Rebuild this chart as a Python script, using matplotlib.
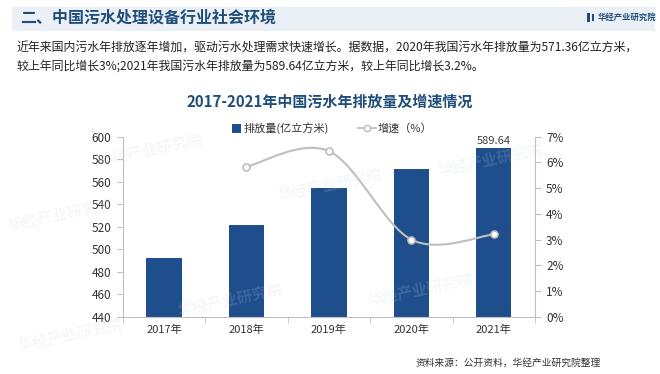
import numpy as np
import matplotlib
matplotlib.use("Agg")
import matplotlib.pyplot as plt
from matplotlib.path import Path
from matplotlib.patches import PathPatch, Rectangle

plt.rcParams['font.family'] = ['Noto Sans CJK SC', 'DejaVu Sans']

years = ['2017年', '2018年', '2019年', '2020年', '2021年']
volume = [492.4, 521.1, 554.65, 571.36, 589.64]
growth_years = [1, 2, 3, 4]
growth = [5.83, 6.44, 3.0, 3.2]

W, H = 660, 374
fig = plt.figure(figsize=(W / 100, H / 100), dpi=100)
fig.patch.set_facecolor('white')


def fx(x):
    return x / W


def fy(y):
    return 1 - y / H


navy = '#1F4E8C'
title_blue = '#1F4E79'

# header band
fig.patches.append(Rectangle((fx(12), fy(31)), fx(643), 24 / H, transform=fig.transFigure,
                             facecolor='#EBF0F7', edgecolor='none', zorder=0))
fig.text(fx(20), fy(18), '二、中国污水处理设备行业社会环境', fontsize=11.5, fontweight='bold',
         color=title_blue, va='center', ha='left')
fig.patches.append(Rectangle((fx(587), fy(22)), 3 / W, 9 / H, transform=fig.transFigure,
                             facecolor=title_blue, edgecolor='none'))
fig.patches.append(Rectangle((fx(591.5), fy(21)), 2 / W, 7 / H, transform=fig.transFigure,
                             facecolor=title_blue, edgecolor='none'))
fig.text(fx(598), fy(17.5), '华经产业研究院', fontsize=6, fontweight='bold',
         color=title_blue, va='center', ha='left')

fig.text(fx(17), fy(48), '近年来国内污水年排放逐年增加，驱动污水处理需求快速增长。据数据，2020年我国污水年排放量为571.36亿立方米，',
         fontsize=8.6, color='#222222', va='center', ha='left')
fig.text(fx(17), fy(66.5), '较上年同比增长3%;2021年我国污水年排放量为589.64亿立方米，较上年同比增长3.2%。',
         fontsize=8.6, color='#222222', va='center', ha='left')

fig.text(fx(330), fy(102), '2017-2021年中国污水年排放量及增速情况', fontsize=10.8, fontweight='bold',
         color=title_blue, va='center', ha='center')

# watermarks
for (wx, wy) in [(150, 150), (330, 185), (490, 160), (60, 215), (230, 300), (420, 290), (70, 335)]:
    fig.text(fx(wx), fy(wy), '华经产业研究院', fontsize=11, fontweight='bold', color='#C8D3E3',
             alpha=0.18, rotation=12, ha='center', va='center', zorder=0.5)

ax = fig.add_axes([fx(122.7), fy(316.7), (535 - 122.7) / W, (316.7 - 136.7) / H])
ax.patch.set_alpha(0)
x = np.arange(len(years))
bars = ax.bar(x, volume, width=0.43, color=navy, zorder=2, label='排放量(亿立方米)')
ax.set_ylim(440, 600)
ax.set_yticks(np.arange(440, 601, 20))
ax.set_xlim(-0.5, len(years) - 0.5)
ax.set_xticks(x)
ax.set_xticklabels(years)
ax.set_xticks(np.arange(-0.5, len(years), 1), minor=True)
ax.tick_params(axis='x', which='major', length=0, pad=6, labelsize=8, labelcolor='#333333')
ax.tick_params(axis='x', which='minor', length=4, color='#BFBFBF', direction='out')
ax.tick_params(axis='y', length=4, color='#BFBFBF', labelsize=8.5, labelcolor='#333333', pad=4)
for s in ['top', 'right']:
    ax.spines[s].set_visible(False)
for s in ['left', 'bottom']:
    ax.spines[s].set_color('#BFBFBF')
ax.text(x[-1], volume[-1] + 2, f'{volume[-1]:.2f}', ha='center', va='bottom', fontsize=8, color='#404040')

ax2 = ax.twinx()
ax2.set_ylim(0, 7)
ax2.set_yticks(range(0, 8))
ax2.set_yticklabels([f'{v}%' for v in range(0, 8)])
ax2.tick_params(axis='y', length=4, color='#BFBFBF', labelsize=8.5, labelcolor='#333333', pad=4)
for s in ['top', 'left', 'bottom']:
    ax2.spines[s].set_visible(False)
ax2.spines['right'].set_color('#BFBFBF')

# smoothed line (Catmull-Rom as cubic Bezier)
pts = np.column_stack([growth_years, growth]).astype(float)
n = len(pts)
verts = [pts[0]]
codes = [Path.MOVETO]
for i in range(n - 1):
    p0 = pts[i - 1] if i > 0 else pts[i]
    p1, p2 = pts[i], pts[i + 1]
    p3 = pts[i + 2] if i + 2 < n else pts[i + 1]
    c1 = p1 + (p2 - p0) / 6
    c2 = p2 - (p3 - p1) / 6
    verts += [c1, c2, p2]
    codes += [Path.CURVE4] * 3
ax2.add_patch(PathPatch(Path(verts, codes), facecolor='none', edgecolor='#BFBFBF', lw=1.5, zorder=3))
ax2.plot(growth_years, growth, linestyle='none', marker='o', ms=5, mfc='white', mec='#BFBFBF',
         mew=1.2, zorder=4)

# legend
fig.patches.append(Rectangle((fx(232), fy(133)), 9 / W, 9 / H, transform=fig.transFigure,
                             facecolor=navy, edgecolor='none'))
fig.text(fx(244), fy(128.5), '排放量(亿立方米)', fontsize=8, color='#333333', va='center', ha='left')
fig.lines.append(plt.Line2D([fx(358), fx(376)], [fy(128.5), fy(128.5)], transform=fig.transFigure,
                            color='#BFBFBF', lw=1.3))
fig.lines.append(plt.Line2D([fx(367)], [fy(128.5)], transform=fig.transFigure, marker='o', ms=4.5,
                            mfc='white', mec='#BFBFBF', mew=1.1, color='#BFBFBF'))
fig.text(fx(378), fy(128.5), '增速（%）', fontsize=8, color='#333333', va='center', ha='left')

fig.text(fx(601), fy(363), '资料来源：公开资料，华经产业研究院整理', fontsize=7, color='#333333',
         va='center', ha='right')

fig.savefig('out.png', dpi=100)
